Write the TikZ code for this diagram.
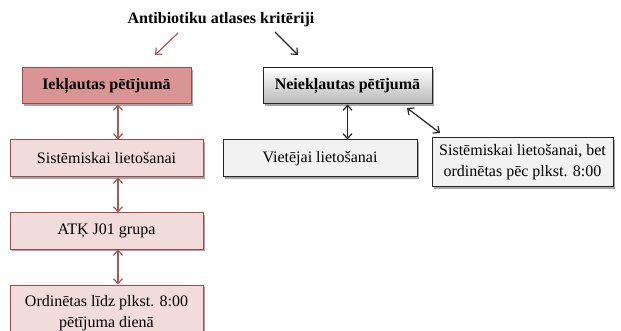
\documentclass[tikz,border=0pt]{standalone}
\usepackage{fontspec}
\setmainfont{Liberation Serif}
\usetikzlibrary{arrows.meta,shadows,calc}
\definecolor{redfill}{HTML}{D99594}
\definecolor{redline}{HTML}{9C4A4A}
\definecolor{pinkfill}{HTML}{F2DCDB}
\definecolor{redarrow}{HTML}{A85A5A}
\definecolor{greyfill}{HTML}{F2F2F2}
\tikzset{
  box/.style={draw, line width=1pt, align=center, inner sep=2pt,
    font=\fontsize{16}{21}\selectfont,
    drop shadow={shadow xshift=2pt, shadow yshift=-2pt, opacity=0.35, fill=black}},
  redbox/.style={box, draw=redline, fill=pinkfill},
  greybox/.style={box, draw=black!85, fill=greyfill},
  redarr/.style={draw=redarrow, line width=1.2pt, {Straight Barb[length=5pt,width=9pt]}-{Straight Barb[length=5pt,width=9pt]}},
  blackarr/.style={draw=black!85, line width=1.2pt, {Straight Barb[length=5pt,width=9pt]}-{Straight Barb[length=5pt,width=9pt]}},
}
\begin{document}
\begin{tikzpicture}[x=1pt,y=-1pt]
\useasboundingbox (0,0) rectangle (621,331);
\clip (0,0) rectangle (621,331);
\fill[white] (0,0) rectangle (621,331);

\node[font=\fontsize{16}{20}\selectfont\bfseries] (title) at (221,20) {Antibiotiku atlases kritēriji};

\node[box, draw=redline, fill=redfill, minimum width=169pt, minimum height=36pt, font=\fontsize{16}{20}\selectfont\bfseries] (inc) at (106.5,86) {Iekļautas pētījumā};
\node[box, draw=black!85, top color=white, bottom color=black!28, minimum width=169pt, minimum height=36pt, font=\fontsize{16}{20}\selectfont\bfseries] (exc) at (347.5,86) {Neiekļautas pētījumā};

\node[redbox, minimum width=193pt, minimum height=37pt] (sis) at (106.5,158.5) {Sistēmiskai lietošanai};
\node[redbox, minimum width=193pt, minimum height=36pt] (atk) at (106.5,231) {ATĶ J01 grupa};
\node[redbox, minimum width=193pt, minimum height=56pt, font=\fontsize{16}{21}\selectfont] (ord) at (106.5,313) {Ordinētas līdz plkst. 8:00\\pētījuma dienā};

\node[greybox, minimum width=194pt, minimum height=37pt] (viet) at (320,158.5) {Vietējai lietošanai};
\node[greybox, minimum width=181pt, minimum height=49pt] (sisbet) at (522.5,162.5) {Sistēmiskai lietošanai, bet\\ordinētas pēc plkst. 8:00};

% title arrows
\coordinate (r1) at (178,33);
\coordinate (r2) at (155,55);
\coordinate (b1) at (275,32);
\coordinate (b2) at (298,55);
\draw[draw=redarrow, line width=1.2pt, -{Straight Barb[length=5pt,width=9pt]}] (r1) -- (r2);
\draw[draw=black!85, line width=1.2pt, -{Straight Barb[length=5pt,width=9pt]}] (b1) -- (b2);

% vertical connectors
\coordinate (vx) at (118,0);
\draw[redarr] (inc.south -| vx) -- (sis.north -| vx);
\draw[redarr] (sis.south -| vx) -- (atk.north -| vx);
\draw[redarr] (atk.south -| vx) -- (ord.north -| vx);
\draw[blackarr] (exc.south) -- (viet.north -| exc.south);
\coordinate (d1) at (407,108);
\coordinate (d2) at (440,133);
\draw[blackarr] (d1) -- (d2);
\end{tikzpicture}
\end{document}
